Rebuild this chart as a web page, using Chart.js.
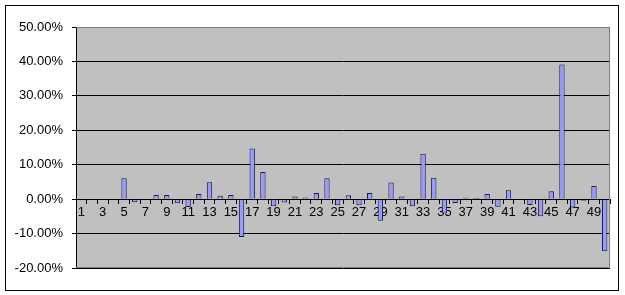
<!DOCTYPE html>
<html>
<head>
<meta charset="utf-8">
<script src="https://cdn.jsdelivr.net/npm/chart.js@4"></script>
<style>
  html, body { margin: 0; padding: 0; background: #fff; }
  #wrap { width: 625px; height: 295px; }
</style>
</head>
<body>
<div id="wrap"><canvas id="chart" width="625" height="295"></canvas></div>
<script>
// データ ===========================================================
const categories = [];
for (let i = 1; i <= 50; i++) categories.push(String(i));

const returns = [
  0, 0, 0, 0, 6.1, -0.9, 0, 1.2, 1.2, -1.2,
  -2.3, 1.5, 4.9, 1.0, 1.2, -11.0, 14.7, 7.9, -2.1, -1.0,
  0.8, 0.5, 1.8, 6.1, -1.8, 1.1, -1.8, 1.8, -6.3, 4.8,
  0.8, -2.1, 13.2, 6.2, -4.2, -1.1, 0.4, 0.4, 1.5, -2.2,
  2.6, 0, -1.7, -5.0, 2.3, 39.1, -2.4, -0.5, 3.8, -15.1
].map(v => v / 100);

const yTicks = [-0.2, -0.1, 0, 0.1, 0.2, 0.3, 0.4, 0.5];

// 背景と枠 =========================================================
const frame = {
  id: 'frame',
  beforeDraw(chart) {
    const ctx = chart.ctx;
    const a = chart.chartArea;
    ctx.save();
    ctx.fillStyle = '#ffffff';
    ctx.fillRect(0, 0, chart.width, chart.height);
    ctx.strokeStyle = '#000000';
    ctx.lineWidth = 1;
    ctx.strokeRect(5.5, 5.5, 613, 285);
    ctx.fillStyle = '#c0c0c0';
    ctx.fillRect(a.left, a.top, a.right - a.left, a.bottom - a.top);
    ctx.restore();
  },
  afterDatasetsDraw(chart) {
    const ctx = chart.ctx;
    const a = chart.chartArea;
    ctx.save();
    ctx.strokeStyle = '#808080';
    ctx.lineWidth = 1;
    ctx.beginPath();
    ctx.moveTo(a.left, a.top + 0.5);
    ctx.lineTo(a.right - 0.5, a.top + 0.5);
    ctx.lineTo(a.right - 0.5, a.bottom - 0.5);
    ctx.lineTo(a.left, a.bottom - 0.5);
    ctx.stroke();
    ctx.restore();
  }
};

const config = {
  type: 'bar',
  data: {
    labels: categories,
    datasets: [{
      data: returns,
      backgroundColor: '#9999ff',
      borderColor: '#1a1a40',
      borderWidth: 1,
      barPercentage: 0.5,
      categoryPercentage: 1.0
    }]
  },
  options: {
    responsive: false,
    animation: false,
    layout: { padding: { left: 0, right: 15, top: 27, bottom: 27 } },
    plugins: {
      legend: { display: false },
      tooltip: { enabled: false }
    },
    scales: {
      x: {
        position: { y: 0 },
        grid: {
          drawOnChartArea: false,
          drawTicks: true,
          tickLength: 4,
          color: '#000000',
          offset: true
        },
        border: { display: true, color: '#000000' },
        ticks: {
          autoSkip: false,
          maxRotation: 0,
          padding: 1,
          color: '#000000',
          font: { family: 'Liberation Sans, Arial', size: 13 },
          callback: (v, i) => (i % 2 === 0 ? categories[i] : '')
        }
      },
      y: {
        min: -0.2,
        max: 0.5,
        afterFit(scale) { scale.width = 76; },
        afterBuildTicks(scale) { scale.ticks = yTicks.map(v => ({ value: v })); },
        grid: {
          color: '#000000',
          tickLength: 4,
          lineWidth: 1
        },
        border: { display: true, color: '#000000' },
        ticks: {
          padding: 9,
          color: '#000000',
          font: { family: 'Liberation Sans, Arial', size: 13 },
          callback: v => (v * 100).toFixed(2) + '%'
        }
      }
    }
  },
  plugins: [frame]
};

const context = document.getElementById('chart');
const chart = new Chart(context, config);
</script>
</body>
</html>
